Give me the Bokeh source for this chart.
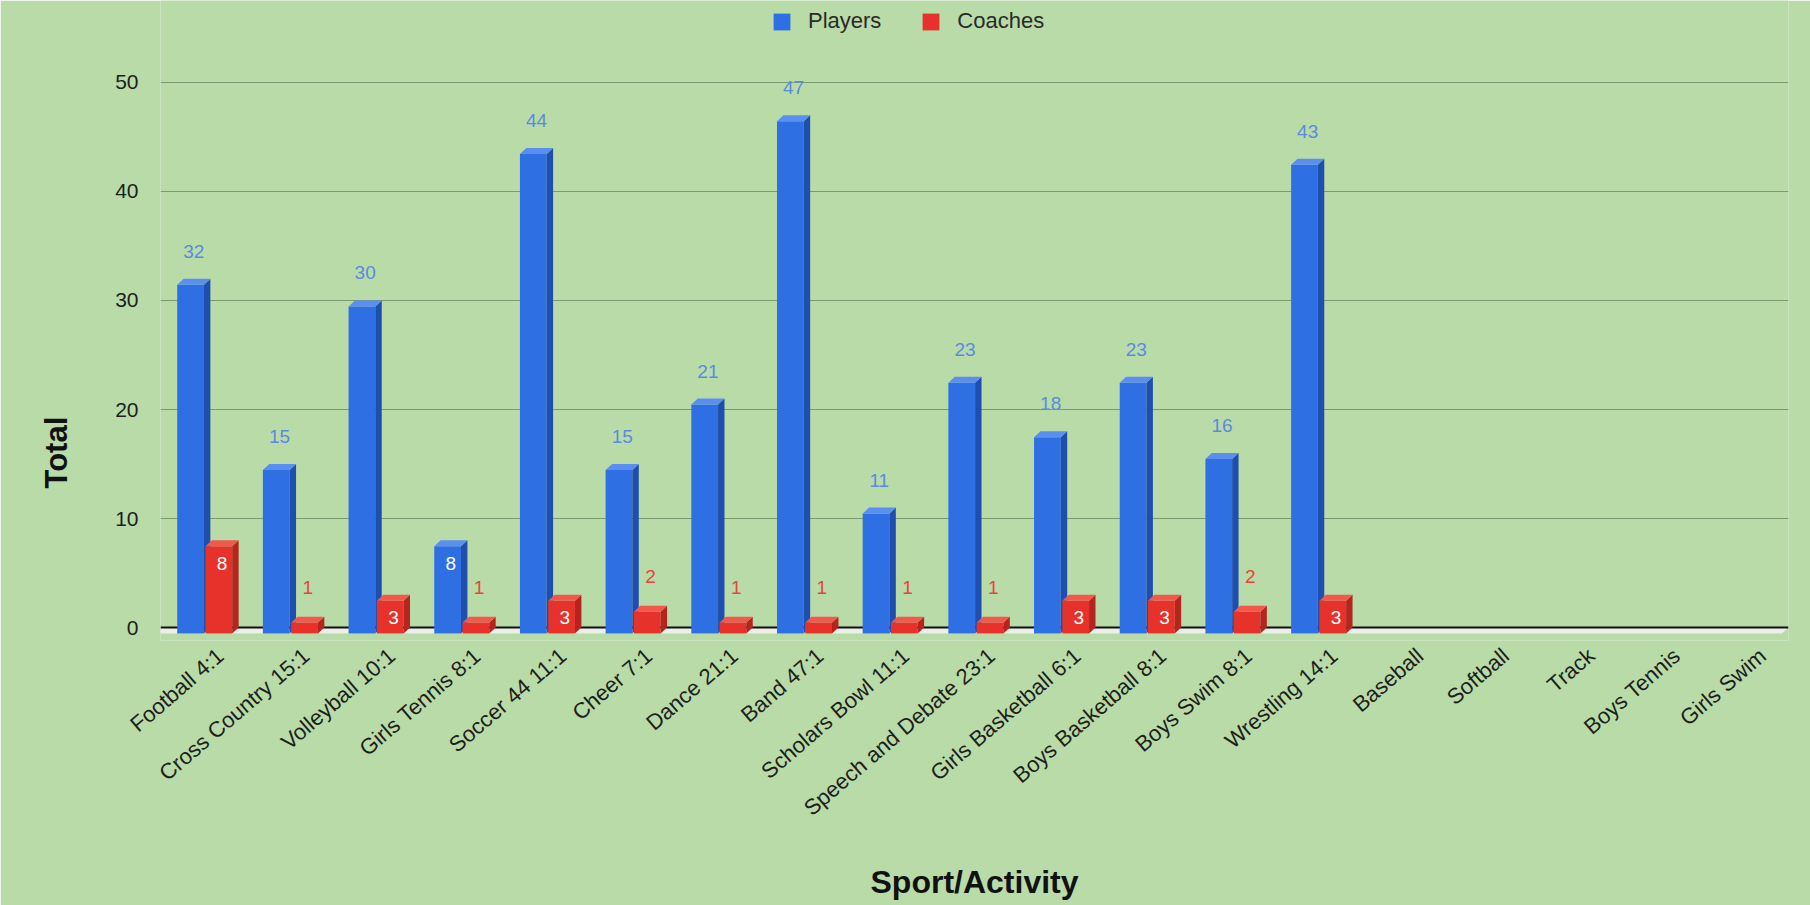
import math
from bokeh.plotting import figure
from bokeh.models import (Range1d, FixedTicker, Legend, LegendItem, LinearAxis, Title)
from bokeh.embed import file_html
from bokeh.resources import INLINE
from bokeh.core.properties import value

# ---------------- data ----------------
categories = ["Football 4:1", "Cross Country 15:1", "Volleyball 10:1", "Girls Tennis 8:1",
              "Soccer 44 11:1", "Cheer 7:1", "Dance 21:1", "Band 47:1", "Scholars Bowl 11:1",
              "Speech and Debate 23:1", "Girls Basketball 6:1", "Boys Basketball 8:1",
              "Boys Swim 8:1", "Wrestling 14:1", "Baseball", "Softball", "Track",
              "Boys Tennis", "Girls Swim"]
players = [32, 15, 30, 8, 44, 15, 21, 47, 11, 23, 18, 23, 16, 43, None, None, None, None, None]
coaches = [8, 1, 3, 1, 3, 2, 1, 1, 1, 1, 3, 3, 2, 3, None, None, None, None, None]
y_ticks = [0, 10, 20, 30, 40, 50]
series_names = ["Players", "Coaches"]
x_title = "Sport/Activity"
y_title = "Total"

# ---------------- style ----------------
FONT = "Liberation Sans"
BG = "#b8dba7"
DX = 0.075   # 3D depth, category units
DY = 0.55    # 3D depth, value units
P_L, P_R = 0.195, 0.507
C_L, C_R = 0.525, 0.837
LABEL_SHIFT = 0.2   # rotated category labels sit a little right of the group centre

n = len(categories)

p = figure(width=1810, height=905, output_backend="svg", toolbar_location=None,
           x_range=Range1d(0, n), y_range=Range1d(-1.19, 57.52), x_axis_location=None,
           min_border_left=160, min_border_right=22, min_border_top=0, min_border_bottom=265)
p.background_fill_color = BG
p.border_fill_color = BG
p.outline_line_color = None

p.xgrid.grid_line_color = None
p.ygrid.ticker = FixedTicker(ticks=y_ticks[1:])
p.ygrid.grid_line_color = "#7b9a6f"
p.ygrid.grid_line_width = 1.2

# y axis
p.yaxis.ticker = FixedTicker(ticks=y_ticks)
p.yaxis.axis_line_color = None
p.yaxis.major_tick_line_color = None
p.yaxis.minor_tick_line_color = None
p.yaxis.major_tick_out = 0
p.yaxis.major_label_standoff = 22
p.yaxis.major_label_text_font = FONT
p.yaxis.major_label_text_font_size = "21px"
p.yaxis.major_label_text_color = "#1e1e1e"

# x axis (category names at category centres)
p.extra_x_ranges = {"lab": Range1d(-LABEL_SHIFT, n - LABEL_SHIFT)}
cat_ticks = [i + 0.5 for i in range(n)]
xaxis = LinearAxis(x_range_name="lab", ticker=FixedTicker(ticks=cat_ticks),
                   major_label_overrides={t: c for t, c in zip(cat_ticks, categories)})
xaxis.axis_line_color = None
xaxis.major_tick_line_color = None
xaxis.minor_tick_line_color = None
xaxis.major_tick_out = 0
xaxis.major_label_standoff = 12
xaxis.major_label_orientation = 0.71
xaxis.major_label_text_font = FONT
xaxis.major_label_text_font_size = "22px"
xaxis.major_label_text_color = "#1e1e1e"
xaxis.axis_label = x_title
xaxis.axis_label_standoff = 31
xaxis.axis_label_text_font = FONT
xaxis.axis_label_text_font_size = "32px"
xaxis.axis_label_text_font_style = "bold"
xaxis.axis_label_text_color = "#111111"
p.add_layout(xaxis, "below")

# y title
p.add_layout(Title(text=y_title, align="left", vertical_align="top", offset=152, standoff=73,
                   text_font=FONT, text_font_size="31px", text_font_style="bold",
                   text_color="#111111"), "left")

# floor + baseline
p.patch(x=[0, n, n - DX, -DX], y=[0, 0, -DY, -DY], fill_color="#eceee8", line_color=None)
p.line(x=[0, n], y=[0, 0], line_color="#111111", line_width=2)


def draw_series(vals, left, right, front, side, top):
    fl, fr, fb, ft = [], [], [], []
    sx, sy, tx, ty = [], [], [], []
    for i, v in enumerate(vals):
        if v is None:
            continue
        x0, x1 = i + left, i + right
        fl.append(x0); fr.append(x1); fb.append(-DY); ft.append(v - DY)
        sx.append([x1, x1 + DX, x1 + DX, x1]); sy.append([-DY, 0, v, v - DY])
        tx.append([x0, x0 + DX, x1 + DX, x1]); ty.append([v - DY, v, v, v - DY])
    r = p.quad(left=fl, right=fr, bottom=fb, top=ft, fill_color=front, line_color=None)
    p.patches(xs=sx, ys=sy, fill_color=side, line_color=None)
    p.patches(xs=tx, ys=ty, fill_color=top, line_color=None)
    return r


rp = draw_series(players, P_L, P_R, "#2f6fe4", "#1f4fae", "#5a8ef0")
rc = draw_series(coaches, C_L, C_R, "#e6322a", "#b5241d", "#f2584c")


def draw_labels(vals, left, right, out_color, out_offset):
    ox, oy, ot, ix, iy, it = [], [], [], [], [], []
    for i, v in enumerate(vals):
        if v is None:
            continue
        cx = i + (left + right) / 2 + DX / 2
        if 3 <= v <= 9:
            ix.append(cx); iy.append(v); it.append(str(v))
        else:
            ox.append(cx); oy.append(v); ot.append(str(v))
    p.text(x=ox, y=oy, text=ot, text_color=out_color, text_align="center",
           text_baseline="bottom", y_offset=out_offset, text_font=value(FONT),
           text_font_size="19px")
    p.text(x=ix, y=iy, text=it, text_color="#ffffff", text_align="center",
           text_baseline="middle", y_offset=23, text_font=value(FONT), text_font_size="19px")


draw_labels(players, P_L, P_R, "#5a8be0", -21)
draw_labels(coaches, C_L, C_R, "#e4463c", -23)

legend = Legend(items=[LegendItem(label=series_names[0], renderers=[rp]),
                       LegendItem(label=series_names[1], renderers=[rc])],
                orientation="horizontal", location=(611, 606), padding=0, margin=0,
                spacing=39, label_standoff=16, glyph_width=21, glyph_height=21,
                label_height=21, border_line_color=None, background_fill_alpha=0,
                label_text_font=FONT, label_text_font_size="22px", label_text_color="#2a2a2a")
p.add_layout(legend)

open("out.html", "w").write(file_html(p, INLINE))
